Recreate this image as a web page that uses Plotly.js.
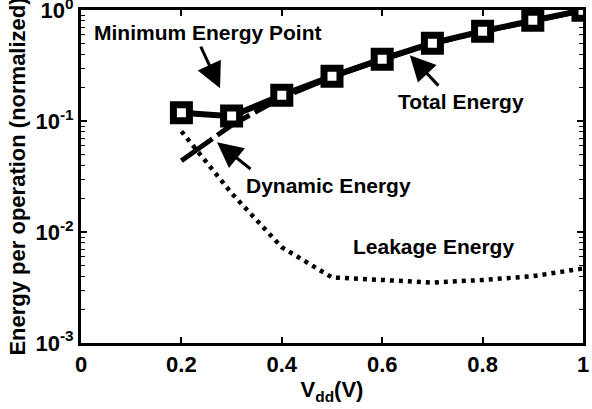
<!DOCTYPE html>
<html>
<head>
<meta charset="utf-8">
<script src="https://cdn.plot.ly/plotly-3.0.1.min.js"></script>
<style>html,body{margin:0;padding:0;background:#fff;}#chart{width:592px;height:409px;}</style>
</head>
<body>
<div id="chart"></div>
<script>
// Data
const vdd = [0.2, 0.3, 0.4, 0.5, 0.6, 0.7, 0.8, 0.9, 1.0];
const totalEnergy = [0.119, 0.111, 0.171, 0.254, 0.362, 0.504, 0.647, 0.81, 1.0];
const dynamicEnergy = [0.044, 0.092, 0.163, 0.25, 0.358, 0.50, 0.643, 0.806, 0.995];
const leakageEnergy = [0.081, 0.0224, 0.0073, 0.0039, 0.0037, 0.0035, 0.0037, 0.0040, 0.0047];

const xTickVals = [0, 0.2, 0.4, 0.6, 0.8, 1];
const xTickText = ["0", "0.2", "0.4", "0.6", "0.8", "1"];
const yTickVals = [0.001, 0.01, 0.1, 1];
const yTickText = ["10<sup>-3</sup>", "10<sup>-2</sup>", "10<sup>-1</sup>", "10<sup>0</sup>"];
const yMinorVals = [];
[0.001, 0.01, 0.1].forEach(d => { for (let k = 2; k <= 9; k++) yMinorVals.push(d * k); });

const FONT = "Liberation Sans, Arial, sans-serif";

const traces = [
  {
    x: vdd, y: leakageEnergy, type: "scatter", mode: "lines",
    line: {color: "#000", width: 4.5, dash: "4px,5px"},
    hoverinfo: "skip"
  },
  {
    x: vdd, y: dynamicEnergy, type: "scatter", mode: "lines",
    line: {color: "#000", width: 5, dash: "38px,6px"},
    hoverinfo: "skip"
  },
  {
    x: vdd, y: totalEnergy, type: "scatter", mode: "lines+markers",
    line: {color: "#000", width: 6},
    marker: {symbol: "square", size: 16, color: "#fff", line: {color: "#000", width: 7}},
    hoverinfo: "skip"
  }
];

const textAnn = (text, x, y) => ({
  text: text, x: x, y: y, xref: "x", yref: "y", showarrow: false,
  font: {family: FONT, size: 21, color: "#000", weight: "bold"},
  xanchor: "center", yanchor: "middle"
});
const arrowAnn = (x, y, ax, ay) => ({
  text: "", x: x, y: y, xref: "x", yref: "y", showarrow: true,
  ax: ax, ay: ay, arrowhead: 2, arrowsize: 1.7, arrowwidth: 3, arrowcolor: "#000"
});

const layout = {
  width: 592, height: 409,
  margin: {l: 81, r: 9, t: 10, b: 66},
  paper_bgcolor: "#fff", plot_bgcolor: "#fff",
  showlegend: false,
  font: {family: FONT, color: "#000", size: 22, weight: "bold"},
  xaxis: {
    range: [0, 1], tickmode: "array", tickvals: xTickVals, ticktext: xTickText,
    ticks: "inside", ticklen: 6, tickwidth: 2, tickcolor: "#000",
    showline: true, linewidth: 3, linecolor: "#000", mirror: "allticks",
    showgrid: false, zeroline: false, ticklabeloverflow: "allow",
    tickfont: {family: FONT, size: 22, color: "#000", weight: "bold"},
    title: {text: "V<sub>dd</sub>(V)", font: {family: FONT, size: 22, color: "#000", weight: "bold"}, standoff: 6},
    automargin: false
  },
  yaxis: {
    type: "log", range: [-3, 0.002], tickmode: "array", tickvals: yTickVals, ticktext: yTickText,
    ticks: "inside", ticklen: 6, tickwidth: 2, tickcolor: "#000",
    minor: {tickmode: "array", tickvals: yMinorVals, ticks: "inside", ticklen: 4, tickwidth: 1, tickcolor: "#000"},
    showline: true, linewidth: 3, linecolor: "#000", mirror: "allticks",
    showgrid: false, zeroline: false, ticklabeloverflow: "allow",
    tickfont: {family: FONT, size: 22, color: "#000", weight: "bold"},
    title: {text: "Energy per operation (normalized)\u00a0\u00a0\u00a0", font: {family: FONT, size: 22, color: "#000", weight: "bold"}, standoff: 4},
    automargin: false
  },
  annotations: [
    textAnn("Minimum Energy Point", 0.253, -0.198),
    textAnn("Total Energy", 0.757, -0.82),
    textAnn("Dynamic Energy", 0.494, -1.577),
    textAnn("Leakage Energy", 0.703, -2.126),
    arrowAnn(0.277, -0.703, -20, -43),
    arrowAnn(0.655, -0.405, 30, 32),
    arrowAnn(0.271, -1.19, 35, 28)
  ]
};

Plotly.newPlot("chart", traces, layout, {displayModeBar: false, staticPlot: true});
</script>
</body>
</html>
